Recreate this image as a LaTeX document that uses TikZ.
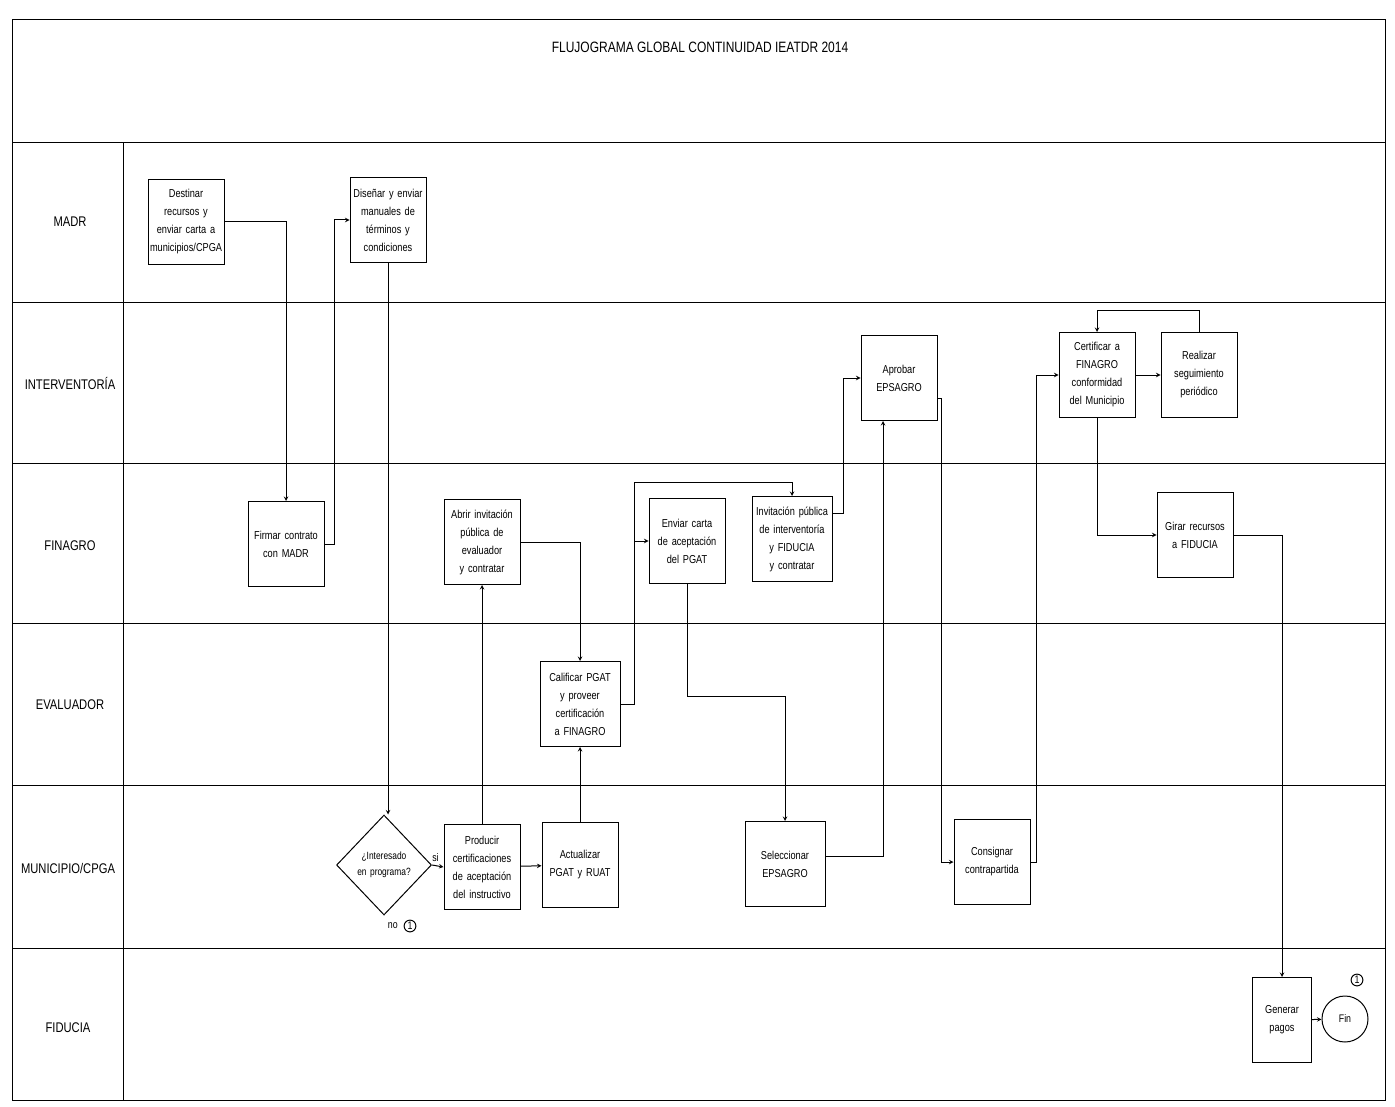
\documentclass[tikz,border=0pt]{standalone}
\usepackage{fontspec}
\setmainfont{Liberation Sans}[FakeStretch=0.8]
\usetikzlibrary{positioning,shapes.geometric}
\hyphenpenalty=10000
\exhyphenpenalty=10000

\begin{document}
\begin{tikzpicture}[x=1pt, y=-1pt, node distance=102pt, >=stealth, line width=1pt,
    proc/.style={draw, minimum width=76pt, minimum height=85pt, text width=72pt,
        inner sep=2pt, align=center, font=\fontsize{11.5}{18}\selectfont},
    lanename/.style={font=\fontsize{14}{16}\selectfont},
    decision/.style={draw, diamond, aspect=1.2, minimum width=82pt, minimum height=100pt,
        text width=64pt, inner sep=0pt, align=center, font=\fontsize{10.5}{16}\selectfont},
    endmark/.style={draw, circle, inner sep=1pt, font=\fontsize{11}{12}\selectfont}]
    \useasboundingbox (0,0) rectangle (1395,1107);

    \draw (12,20) rectangle (1385,1100);
    \draw (12,143) -- (1385,143);
    \draw (12,303) -- (1385,303);
    \draw (12,463) -- (1385,463);
    \draw (12,623) -- (1385,623);
    \draw (12,785) -- (1385,785);
    \draw (12,948) -- (1385,948);
    \draw (123,143) -- (123,1100);

    \node[font=\fontsize{15}{17}\selectfont] (title) at (700,47) {FLUJOGRAMA GLOBAL CONTINUIDAD IEATDR 2014};

    \node[lanename] (madr)     at (70,222)  {MADR};
    \node[lanename] (interv)   at (70,383)  {INTERVENTORÍA};
    \node[lanename] (finagro)  at (70,546)  {FINAGRO};
    \node[lanename] (evalua)   at (70,705)  {EVALUADOR};
    \node[lanename] (munic)    at (68,868)  {MUNICIPIO/CPGA};
    \node[lanename] (fiducia)  at (68,1028) {FIDUCIA};

    \node[proc] (destinar)    at (186,222)  {Destinar recursos y enviar carta a municipios/CPGA};
    \node[proc] (disenar)     at (388,220)  {Diseñar y enviar manuales de términos y condiciones};
    \node[proc] (aprobar)     at (899,378)  {Aprobar EPSAGRO};
    \node[proc] (certificar)  at (1097,375) {Certificar a FINAGRO conformidad del Municipio};
    \node[proc] (realizar)    [right of = certificar] {Realizar seguimiento periódico};
    \node[proc] (firmar)      at (286,544)  {Firmar contrato con MADR};
    \node[proc] (abrir)       at (482,542)  {Abrir invitación pública de evaluador y contratar};
    \node[proc] (enviar)      at (687,541)  {Enviar carta de aceptación del PGAT};
    \node[proc, minimum width=80pt, text width=76pt] (invitacion) at (792,539) {Invitación pública de interventoría y FIDUCIA y contratar};
    \node[proc] (girar)       at (1195,535) {Girar recursos a FIDUCIA};
    \node[proc, minimum width=80pt, text width=76pt] (calificar) at (580,704) {Calificar PGAT y proveer certificación a FINAGRO};
    \node[decision] (interes) at (384,865)  {¿Interesado en programa?};
    \node[proc] (producir)    at (482,867)  {Producir certificaciones de aceptación del instructivo};
    \node[proc] (actualizar)  at (580,865)  {Actualizar PGAT y RUAT};
    \node[proc, minimum width=80pt] (seleccionar) at (785,864) {Seleccionar EPSAGRO};
    \node[proc] (consignar)   at (992,862)  {Consignar contrapartida};
    \node[proc, minimum width=59pt, text width=52pt] (generar) at (1282,1020) {Generar pagos};
    \node[endmark, minimum size=46pt] (fin) at (1345,1019) {Fin};
    \node[endmark] (uno)      at (1357,980) {1};
    \node[endmark] (unob)     at (410,926)  {1};
    \node[font=\fontsize{11}{12}\selectfont] (no) [left=2pt of unob] {no};

    \draw[->] (destinar.east) -| (firmar.north);
    \draw[->] (firmar.east) -- ++(10,0) |- (disenar.west);
    \draw[->] (disenar.south) -- (disenar.south |- interes.north);
    \draw[->] (interes.east) -- (producir.west) node[pos=0.3, above, font=\fontsize{11}{12}\selectfont] {si};
    \draw[->] (producir.north) -- (abrir.south);
    \draw[->] (producir) -- (actualizar);
    \draw[->] (abrir.east) -| (calificar.north);
    \draw[->] (actualizar.north) -- (calificar.south);
    \draw[->] (calificar.east) -- ++(14,0) |- (enviar.west);
    \draw[->] (calificar.east) -- ++(14,0) |- ([yshift=14pt]invitacion.north) -- (invitacion.north);
    \draw[->] (enviar.south) -- ++(0,112) -| (seleccionar.north);
    \draw[->] ([yshift=26pt]invitacion.east) -- ++(11,0) |- (aprobar.west);
    \draw[->] ([yshift=8pt]seleccionar.east) -| ([xshift=-16pt]aprobar.south);
    \draw[->] ([yshift=-20pt]aprobar.east) -- ++(4,0) |- (consignar.west);
    \draw[->] (consignar.east) -- ++(6,0) |- (certificar.west);
    \draw[->] (certificar) -- (realizar);
    \draw[->] (realizar.north) -- ++(0,-21) -| (certificar.north);
    \draw[->] (certificar.south) |- (girar.west);
    \draw[->] (girar.east) -| (generar.north);
    \draw[->] (generar) -- (fin);
\end{tikzpicture}
\end{document}
